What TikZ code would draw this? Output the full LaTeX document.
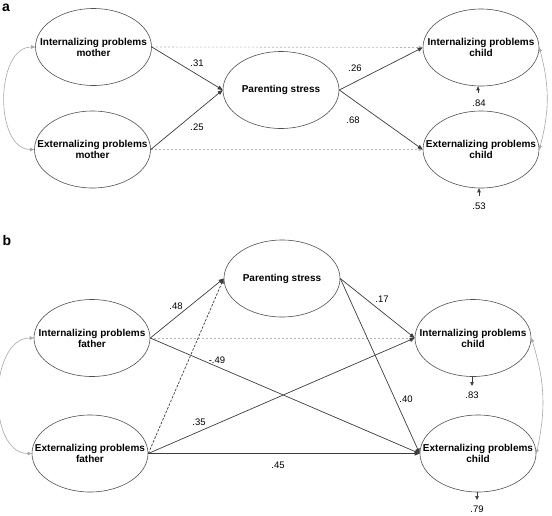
\documentclass[tikz,border=0pt]{standalone}
\usepackage{fontspec}
\setmainfont{Liberation Sans}
\usepackage{tikz}
\usetikzlibrary{arrows.meta,positioning,shapes.geometric}
\definecolor{edgegray}{HTML}{505050}
\definecolor{pathgray}{HTML}{3C3C3C}
\definecolor{nogray}{HTML}{B4B4B4}
\definecolor{corrgray}{HTML}{A8A8A8}
\begin{document}
\begin{tikzpicture}[x=1pt,y=-1pt,
			latent/.style={draw=edgegray,line width=0.6pt,ellipse,minimum width=116pt,minimum height=77pt,inner sep=0pt},
			txt/.style={font=\fontsize{10}{11}\selectfont\bfseries,align=center,inner sep=0pt},
			coef/.style={font=\fontsize{9.5}{11}\selectfont,inner sep=1pt},
			panel/.style={font=\fontsize{14}{14}\selectfont\bfseries,inner sep=0pt},
			path/.style={draw=pathgray,line width=0.7pt,-{Triangle[length=5pt,width=4pt]}},
			dpath/.style={path,dash pattern=on 2.5pt off 1.5pt},
			nopath/.style={draw=nogray,line width=0.6pt,dash pattern=on 2pt off 2pt,-{Triangle[length=4pt,width=3.5pt]}},
			corr/.style={draw=corrgray,line width=0.6pt,{Triangle[length=4pt,width=3.5pt]}-{Triangle[length=4pt,width=3.5pt]}},
			resid/.style={draw=pathgray,line width=0.7pt,-{Triangle[length=4pt,width=3.5pt]}}
			]
			\useasboundingbox (0,0) rectangle (552,515);
			% panel a
			\node[panel] (pa) at (6,8) {a};
			\node[latent,label={[txt]center:{Internalizing problems\\mother}}] (im) at (93.5,47) {};
			\node[latent,label={[txt]center:{Externalizing problems\\mother}}] (em) at (92.5,149.5) {};
			\node[latent,label={[txt]center:{Parenting stress}}] (ps) at (281,90) {};
			\node[latent,label={[txt]center:{Internalizing problems\\child}}] (ic) at (481,47.5) {};
			\node[latent,label={[txt]center:{Externalizing problems\\child}}] (ec) at (481,149.5) {};
			\draw[nopath] (im.east) -- (ic.west);
			\draw[nopath] (em.east) -- (ec.west);
			\draw[path] (im.east) -- (ps.west);
			\draw[path] (em.east) -- (ps.west);
			\draw[path] (ps.east) -- (ic.west);
			\draw[path] (ps.east) -- (ec.west);
			\draw[corr] (im.west) to[out=180,in=180,looseness=1] (em.west);
			\draw[corr] (ic.east) to[bend left=15] (ec.east);
			\node[coef] (l31) at (197,63) {.31};
			\node[coef] (l25) at (197,127) {.25};
			\node[coef] (l26) at (355,68) {.26};
			\node[coef] (l68) at (353,120) {.68};
			\coordinate (r84) at (478,93);
			\draw[resid] (r84) -- (r84 |- ic.south);
			\node[coef] (l84) at (479,103) {.84};
			\coordinate (r53) at (479,196);
			\draw[resid] (r53) -- (r53 |- ec.south);
			\node[coef] (l53) at (479,206) {.53};
			% panel b
			\node[panel] (pb) at (7,240) {b};
			\node[latent,label={[txt]center:{Parenting stress}}] (psb) at (282,278.5) {};
			\node[latent,label={[txt]center:{Internalizing problems\\father}}] (ifb) at (92,338) {};
			\node[latent,label={[txt]center:{Externalizing problems\\father}}] (efb) at (90,453.5) {};
			\node[latent,label={[txt]center:{Internalizing problems\\child}}] (icb) at (473,338) {};
			\node[latent,label={[txt]center:{Externalizing problems\\child}}] (ecb) at (478,453.5) {};
			\draw[nopath] (ifb.east) -- (icb.west);
			\draw[path] (ifb.east) -- (psb.west);
			\draw[dpath] (efb.east) -- (psb.west);
			\draw[path] (ifb.east) -- (ecb.west);
			\draw[path] (efb.east) -- (icb.west);
			\draw[path] (efb.east) -- (ecb.west);
			\draw[path] (psb.east) -- (icb.west);
			\draw[path] (psb.east) -- (ecb.west);
			\draw[corr] (ifb.west) to[out=180,in=180,looseness=1] (efb.west);
			\draw[corr] (icb.east) to[bend left=15] (ecb.east);
			\node[coef] (l48) at (176,306) {.48};
			\node[coef] (l49) at (217,360) {-.49};
			\node[coef] (l35) at (199,422) {.35};
			\node[coef] (l45) at (278,465) {.45};
			\node[coef] (l17) at (382,299) {.17};
			\node[coef] (l40) at (406,399) {.40};
			\coordinate (r83) at (472,386);
			\draw[resid] (r83 |- icb.south) -- (r83);
			\node[coef] (l83) at (472,395) {.83};
			\coordinate (r79) at (477,500);
			\draw[resid] (r79 |- ecb.south) -- (r79);
			\node[coef] (l79) at (477,509) {.79};
		\end{tikzpicture}
\end{document}
